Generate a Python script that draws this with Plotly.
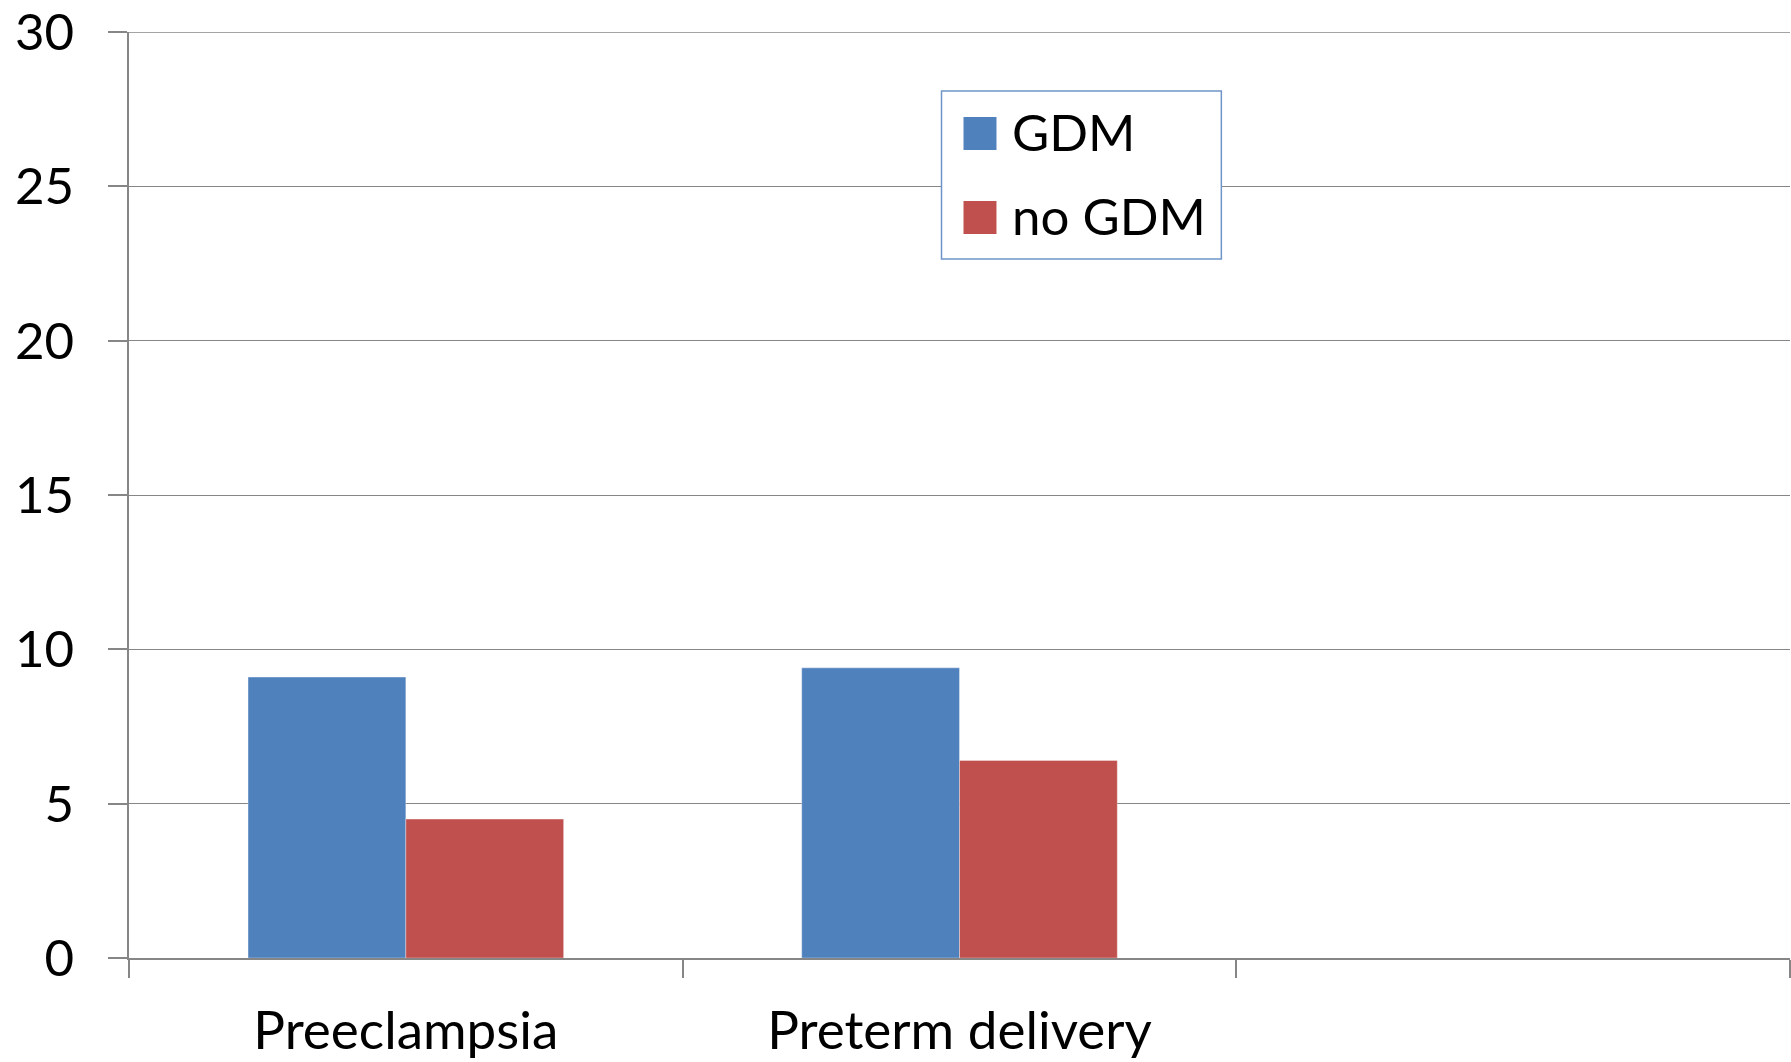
import plotly.graph_objects as go

# Outcome rates (%) by group
categories = ["Preeclampsia", "Preterm delivery", " "]
gdm = [9.1, 9.4, None]
no_gdm = [4.5, 6.4, None]
series_names = ["GDM", "no GDM"]
series_colors = ["#4F81BD", "#C0504D"]
y_ticks = [0, 5, 10, 15, 20, 25, 30]

FONT = "Lato, Calibri, Carlito, sans-serif"
AXIS_GRAY = "#868686"

fig = go.Figure()
for name, vals, color in zip(series_names, [gdm, no_gdm], series_colors):
    fig.add_trace(go.Bar(
        x=categories, y=vals, name=name,
        marker=dict(color=color, line=dict(color="rgba(255,255,255,0.35)", width=1)),
        showlegend=False,
    ))

# Top gridline sits on the plot edge, where plotly skips it; draw it explicitly
fig.add_shape(type="line", xref="paper", yref="y",
              x0=0, x1=1, y0=max(y_ticks), y1=max(y_ticks),
              line=dict(color=AXIS_GRAY, width=1.3), layer="below")

# Boxed legend with large colour swatches (paper coords relative to plot area)
PL, PW, PB, PH = 129, 1662, 958, 926


def px(x):
    return (x - PL) / PW


def py(y):
    return (PB - y) / PH


fig.add_shape(type="rect", xref="paper", yref="paper",
              x0=px(942), x1=px(1222), y0=py(259), y1=py(91),
              line=dict(color="#6F95C8", width=1.5), fillcolor="white", layer="above")
row_centers = [133.5, 217.5]
for name, color, cy in zip(series_names, series_colors, row_centers):
    fig.add_shape(type="rect", xref="paper", yref="paper",
                  x0=px(964), x1=px(997), y0=py(cy + 16.5), y1=py(cy - 16.5),
                  line=dict(width=0), fillcolor=color, layer="above")
    fig.add_annotation(xref="paper", yref="paper",
                       x=px(1011), y=py(cy - 1.5),
                       text=name, showarrow=False, xanchor="left", yanchor="middle",
                       font=dict(family=FONT, size=51, color="black"))

fig.update_layout(
    width=1791, height=1062,
    margin=dict(l=129, r=1, t=32, b=104, autoexpand=False),
    paper_bgcolor="white", plot_bgcolor="white",
    barmode="group", bargap=0.43, bargroupgap=0,
    font=dict(family=FONT, size=50, color="black"),
    showlegend=False,
)
fig.update_xaxes(
    type="category", categoryorder="array", categoryarray=categories,
    range=[-0.5, 2.5], tickson="boundaries", automargin=False,
    ticks="outside", ticklen=18, tickcolor=AXIS_GRAY, tickwidth=1.5,
    showline=True, linecolor=AXIS_GRAY, linewidth=2,
    showgrid=False, ticklabelstandoff=25, ticklabeloverflow="allow",
    tickfont=dict(family=FONT, size=53, color="black"),
)
fig.update_yaxes(
    range=[0, 30], tickvals=y_ticks, automargin=False,
    ticks="outside", ticklen=19, tickcolor=AXIS_GRAY, tickwidth=1.5,
    showline=True, linecolor=AXIS_GRAY, linewidth=1.5,
    showgrid=True, gridcolor=AXIS_GRAY, gridwidth=1.3, zeroline=False,
    ticklabelstandoff=24, ticklabeloverflow="allow",
    tickfont=dict(family=FONT, size=51, color="black"),
)

fig.write_html("out.html")
